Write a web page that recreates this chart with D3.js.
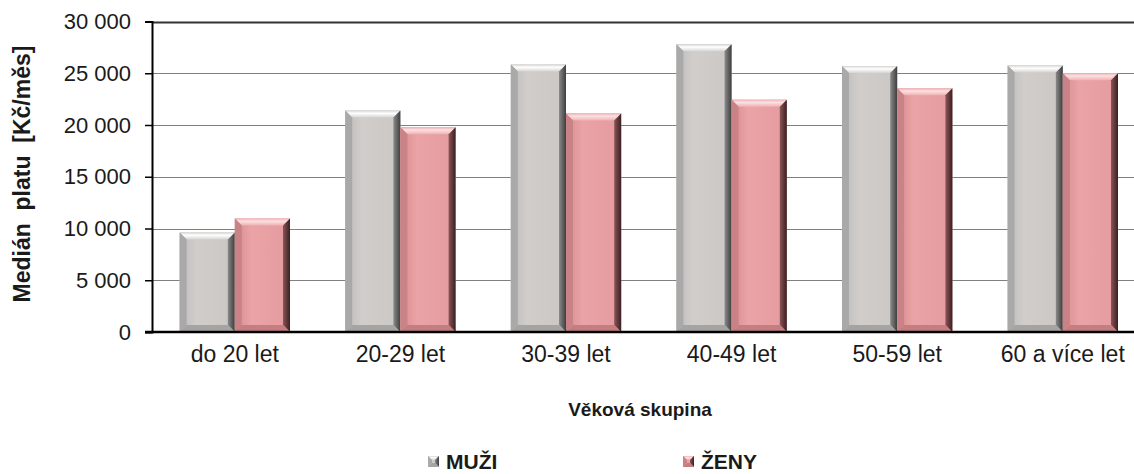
<!DOCTYPE html>
<html>
<head>
<meta charset="utf-8">
<script src="https://cdn.jsdelivr.net/npm/d3@7"></script>
<style>
  body { margin: 0; background: #fff; }
  svg { display: block; font-family: "Liberation Sans", Arial, sans-serif; }
</style>
</head>
<body>
<div id="root"></div>
<script>
const categories = ["do 20 let", "20-29 let", "30-39 let", "40-49 let", "50-59 let", "60 a více let"];
const muzi = [9620, 21400, 25850, 27800, 25700, 25760];
const zeny = [10970, 19780, 21120, 22450, 23540, 25010];
const seriesNames = ["MUŽI", "ŽENY"];
const yTicks = [0, 5000, 10000, 15000, 20000, 25000, 30000];

const w = 1134;
const h = 474;
const plotLeft = 152;
const plotTop = 21.5;
const plotBottom = 332;
const step = 165.6;

const svg = d3.select("#root")
  .append("svg")
  .attr("width", w)
  .attr("height", h);

const cz = d3.formatLocale({ decimal: ",", thousands: " ", grouping: [3], currency: ["", ""] });

const xScale = d3.scaleBand()
  .domain(categories)
  .range([plotLeft, plotLeft + step * categories.length])
  .paddingInner(0)
  .paddingOuter(0);

const inner = d3.scaleBand()
  .domain([0, 1])
  .range([0, xScale.bandwidth()])
  .paddingOuter(0.5)
  .paddingInner(0);

const yScale = d3.scaleLinear()
  .domain([0, 30000])
  .range([plotBottom, plotTop]);

// gradients
const defs = svg.append("defs");
const palettes = [
  { face: ["#bdbbba", "#d0cdcb", "#cac7c5"], topB: ["#ffffff", "#d6d4d3"], leftB: "#a9a9a9", rightB: ["#8a8a8a", "#3e3e3e"], botB: "#a6a4a3" },
  { face: ["#d98d90", "#eaa3a6", "#e59b9f"], topB: ["#fde0e1", "#eeb2b4"], leftB: "#c98286", rightB: ["#8a5557", "#3a2021"], botB: "#c47e81" }
];
palettes.forEach((p, i) => {
  const f = defs.append("linearGradient").attr("id", "face" + i).attr("x1", 0).attr("x2", 1).attr("y1", 0).attr("y2", 0);
  f.append("stop").attr("offset", 0).attr("stop-color", p.face[0]);
  f.append("stop").attr("offset", 0.3).attr("stop-color", p.face[1]);
  f.append("stop").attr("offset", 1).attr("stop-color", p.face[2]);
  const t = defs.append("linearGradient").attr("id", "top" + i).attr("x1", 0).attr("x2", 0).attr("y1", 0).attr("y2", 1);
  t.append("stop").attr("offset", 0).attr("stop-color", p.topB[1]);
  t.append("stop").attr("offset", 0.4).attr("stop-color", p.topB[0]);
  t.append("stop").attr("offset", 1).attr("stop-color", p.topB[1]);
  const r = defs.append("linearGradient").attr("id", "right" + i).attr("x1", 0).attr("x2", 1).attr("y1", 0).attr("y2", 0);
  r.append("stop").attr("offset", 0).attr("stop-color", p.rightB[0]);
  r.append("stop").attr("offset", 1).attr("stop-color", p.rightB[1]);
});

// gridlines
svg.append("g")
  .selectAll("line")
  .data(yTicks.filter(d => d > 0))
  .enter()
  .append("line")
  .attr("x1", plotLeft)
  .attr("x2", w)
  .attr("y1", d => Math.round(yScale(d)) + 0.5)
  .attr("y2", d => Math.round(yScale(d)) + 0.5)
  .attr("stroke", d => d === 30000 ? "#333" : "#808080")
  .attr("stroke-width", d => d === 30000 ? 2 : 1);

// bevelled bars
function drawBar(g, x, y, bw, bh, i, bevel) {
  const b = Math.min(bevel, bh / 2);
  const x2 = x + bw, y2 = y + bh;
  g.append("rect").attr("x", x).attr("y", y).attr("width", bw).attr("height", bh).attr("fill", `url(#face${i})`);
  const poly = (pts, fill) => g.append("polygon").attr("points", pts.map(p => p.join(",")).join(" ")).attr("fill", fill);
  poly([[x, y], [x2, y], [x2 - b, y + b], [x + b, y + b]], `url(#top${i})`);
  poly([[x, y], [x + b, y + b], [x + b, y2 - b], [x, y2]], palettes[i].leftB);
  poly([[x2, y], [x2, y2], [x2 - b, y2 - b], [x2 - b, y + b]], `url(#right${i})`);
  poly([[x, y2], [x + b, y2 - b], [x2 - b, y2 - b], [x2, y2]], palettes[i].botB);
}

const groups = svg.append("g")
  .selectAll("g")
  .data(categories)
  .enter()
  .append("g")
  .attr("transform", d => `translate(${xScale(d)},0)`);

groups.each(function (d, k) {
  const g = d3.select(this);
  [muzi[k], zeny[k]].forEach((v, i) => {
    drawBar(g, inner(i), yScale(v), inner.bandwidth(), yScale(0) - yScale(v), i, 7);
  });
});

// axes
const yAxis = d3.axisLeft(yScale)
  .tickValues(yTicks)
  .tickSize(7)
  .tickPadding(14)
  .tickFormat(cz.format(",d"));

const gy = svg.append("g")
  .attr("transform", `translate(${plotLeft},0)`)
  .call(yAxis);
gy.select(".domain").attr("stroke", "#000").attr("stroke-width", 2);
gy.selectAll(".tick line").attr("stroke", "#000").attr("stroke-width", 1.5);
gy.selectAll(".tick text").attr("font-size", 22).attr("fill", "#1a1a1a").attr("font-family", "Liberation Sans, Arial, sans-serif");

svg.append("line")
  .attr("x1", plotLeft - 7)
  .attr("x2", w)
  .attr("y1", plotBottom)
  .attr("y2", plotBottom)
  .attr("stroke", "#000")
  .attr("stroke-width", 2.5);

svg.append("g")
  .selectAll("text")
  .data(categories)
  .enter()
  .append("text")
  .attr("x", d => xScale(d) + xScale.bandwidth() / 2)
  .attr("y", 362)
  .attr("text-anchor", "middle")
  .attr("font-size", 23)
  .attr("fill", "#1a1a1a")
  .text(d => d);

// titles
svg.append("text")
  .attr("transform", `translate(30,174) rotate(-90)`)
  .attr("text-anchor", "middle")
  .attr("font-size", 23)
  .attr("font-weight", "bold")
  .attr("fill", "#1a1a1a")
  .style("white-space", "pre")
  .text("Medián  platu  [Kč/měs]");

svg.append("text")
  .attr("x", 640)
  .attr("y", 416)
  .attr("text-anchor", "middle")
  .attr("font-size", 19)
  .attr("font-weight", "bold")
  .attr("fill", "#1a1a1a")
  .text("Věková skupina");

// legend
const legendX = [428, 683];
seriesNames.forEach((name, i) => {
  const lg = svg.append("g").attr("transform", `translate(${legendX[i]},456)`);
  drawBar(lg, 0, 0, 11, 11, i, 4);
  lg.append("text")
    .attr("x", 18)
    .attr("y", 12.5)
    .attr("font-size", 21)
    .attr("font-weight", "bold")
    .attr("fill", "#1a1a1a")
    .text(name);
});
</script>
</body>
</html>
